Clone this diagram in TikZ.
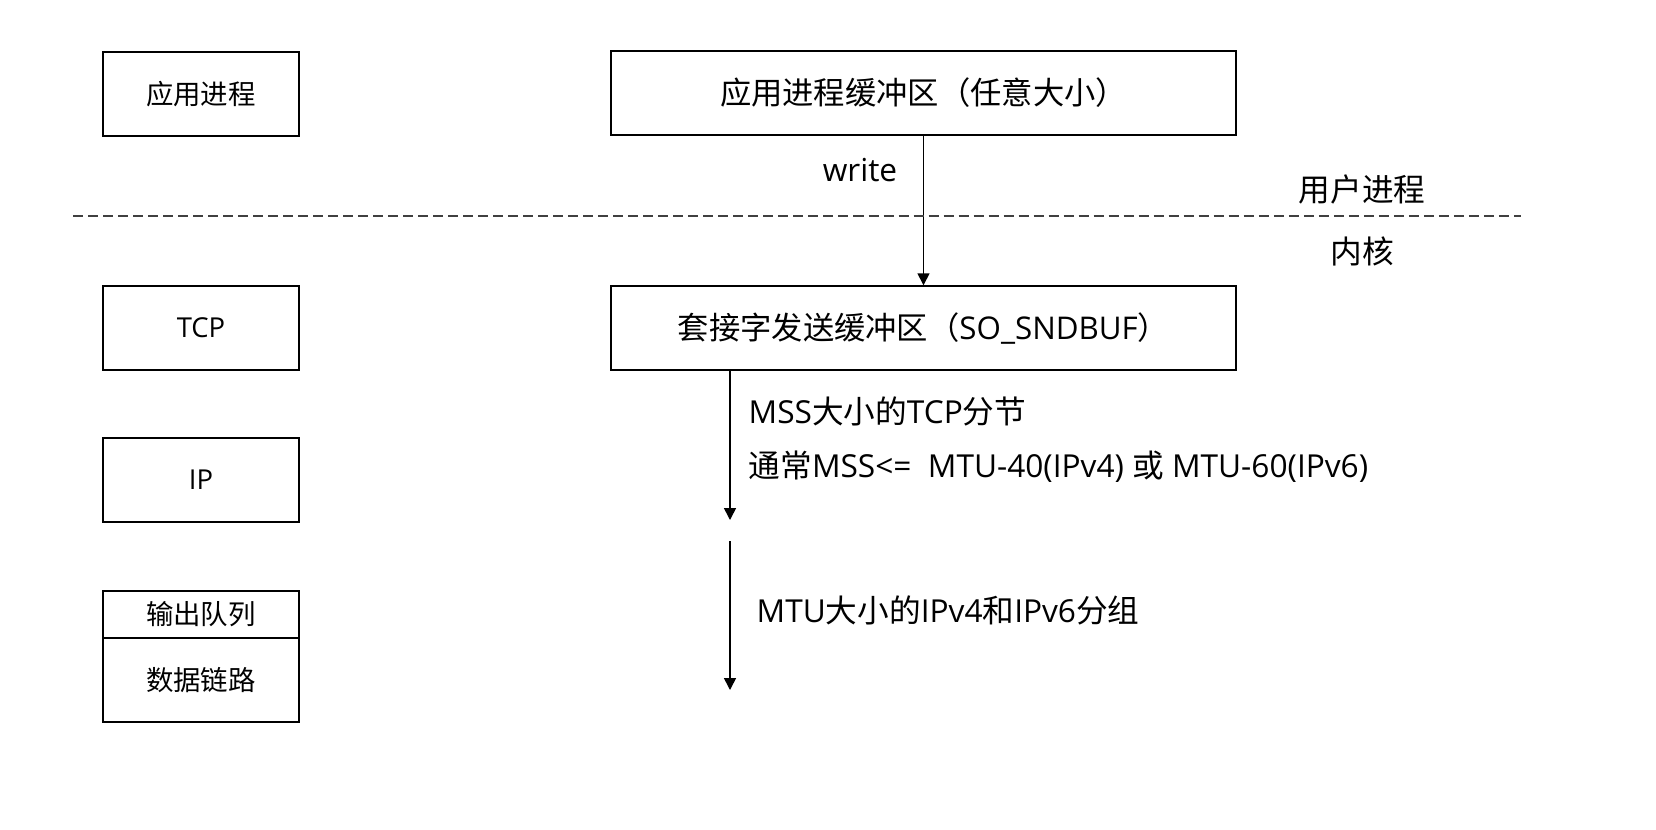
\documentclass[tikz,border=0pt]{standalone}
\usepackage{fontspec}
\setmainfont{Open Sans}
\newfontfamily\cjk{Noto Sans CJK SC}
\usetikzlibrary{arrows.meta}
\begin{document}
\begin{tikzpicture}[x=0.01cm, y=-0.01cm,
  layer/.style={draw, minimum width=1.96cm, minimum height=0.84cm, inner sep=0pt, font=\fontsize{7.8pt}{9pt}\selectfont},
  buf/.style={draw, minimum width=6.25cm, minimum height=0.84cm, inner sep=0pt, font=\fontsize{8.9pt}{10pt}\selectfont},
  lbl/.style={inner sep=0pt, font=\fontsize{9pt}{10pt}\selectfont},
  flow/.style={-{Triangle[width=0.12cm,length=0.12cm]}, line width=0.45pt}]
\useasboundingbox (0,0) rectangle (1656,829);
% left column
\node[layer] (app) at (201,94){\cjk 应用进程};
\node[layer] (tcp) at (201,328){TCP};
\node[layer] (ip) at (201,480){IP};
\node[layer, minimum height=0.47cm] (queue) at (201,614.5){\cjk 输出队列};
\node[layer] (link) at (201,680){\cjk 数据链路};
% buffers
\node[buf] (appbuf) at (923.5,93){\cjk 应用进程缓冲区（任意大小）};
\node[buf] (sockbuf) at (923.5,328){{\cjk 套接字发送缓冲区（}SO\_SNDBUF{\cjk ）}};
\draw[flow] (appbuf) -- (sockbuf);
\node[lbl] (write) at (860,170){write};
% user / kernel
\coordinate (sepL) at (73,216);
\coordinate (sepR) at (1521,216);
\draw[dashed, dash pattern=on 0.1cm off 0.05cm, line width=0.4pt, black!75] (sepL) -- (sepR);
\node[lbl] (user) at (1362,189){\cjk 用户进程};
\node[lbl] (kernel) at (1362,251){\cjk 内核};
% tcp segments
\coordinate (segEnd) at (730,520);
\draw[flow] (sockbuf.south -| segEnd) -- (segEnd);
\node[lbl, anchor=west] (seg) at (748,411){MSS{\cjk 大小的}TCP{\cjk 分节}};
\node[lbl, anchor=west] (mss) at (748,467){{\cjk 通常}MSS<=\ \ MTU-40(IPv4)\ {\cjk 或}\ MTU-60(IPv6)};
% ip packets
\coordinate (pktStart) at (730,541);
\coordinate (pktEnd) at (730,690);
\draw[flow] (pktStart) -- (pktEnd);
\node[lbl, anchor=west] (pkt) at (756,610){MTU{\cjk 大小的}IPv4{\cjk 和}IPv6{\cjk 分组}};
\end{tikzpicture}
\end{document}
